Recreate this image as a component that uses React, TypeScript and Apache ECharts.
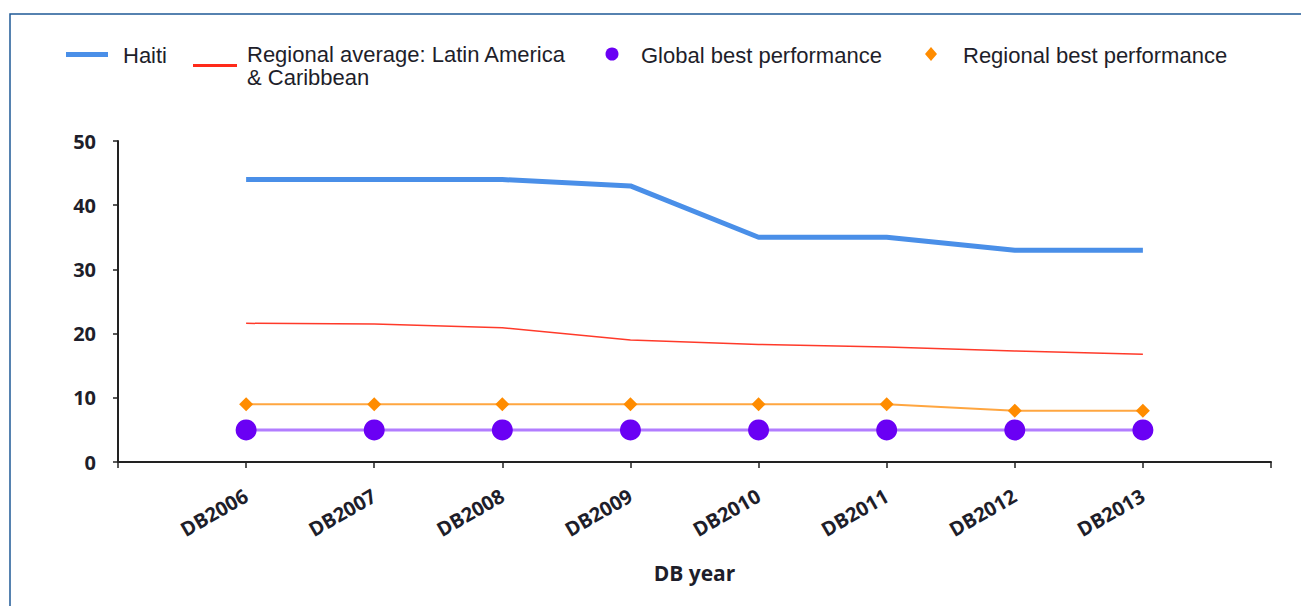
import React, { useEffect, useRef } from "react";
import * as echarts from "echarts";

const categories = ["", "DB2006", "DB2007", "DB2008", "DB2009", "DB2010", "DB2011", "DB2012", "DB2013", ""];
const haiti = [null, 44, 44, 44, 43, 35, 35, 33, 33, null];
const regionalAverage = [null, 21.6, 21.5, 20.9, 19.0, 18.3, 17.9, 17.3, 16.8, null];
const globalBest = [null, 5, 5, 5, 5, 5, 5, 5, 5, null];
const regionalBest = [null, 9, 9, 9, 9, 9, 9, 8, 8, null];
const yTicks = { min: 0, max: 50, interval: 10 };
const legendNames = ["Haiti", "Regional average: Latin America\n& Caribbean", "Global best performance", "Regional best performance"];

const FONT = "'Liberation Sans', Arial, sans-serif";
const BOLD = "'Open Sans', 'DejaVu Sans', sans-serif";
const TXT = "#1e1e2a";

export default function App() {
  const ref = useRef<HTMLDivElement>(null);
  useEffect(() => {
    const chart = echarts.init(ref.current!, null, { renderer: "svg" });
    const legendText = (x: number, y: number, t: string) => ({
      type: "text",
      x,
      y,
      style: { text: t, font: `22px ${FONT}`, fill: TXT, textVerticalAlign: "middle", lineHeight: 23 },
    });
    chart.setOption({
      animation: false,
      backgroundColor: "#ffffff",
      grid: { left: 118, right: 30, top: 141, bottom: 144, containLabel: false },
      xAxis: {
        type: "category",
        data: categories,
        boundaryGap: false,
        name: "DB year",
        nameLocation: "middle",
        nameGap: 100,
        nameTextStyle: { fontFamily: BOLD, fontWeight: "bold", fontSize: 21, color: TXT },
        axisLine: { show: true, lineStyle: { color: "#222", width: 2 } },
        axisTick: { show: true, length: 6, lineStyle: { color: "#222", width: 1.5 } },
        axisLabel: { rotate: 30, margin: 32, interval: 0, fontFamily: BOLD, fontWeight: "bold", fontSize: 20, color: TXT },
        splitLine: { show: false },
      },
      yAxis: {
        type: "value",
        min: yTicks.min,
        max: yTicks.max,
        interval: yTicks.interval,
        axisLine: { show: true, lineStyle: { color: "#222", width: 2 } },
        axisTick: { show: true, length: 5, lineStyle: { color: "#222", width: 1.5 } },
        axisLabel: { margin: 22, fontFamily: BOLD, fontWeight: "bold", fontSize: 20, color: TXT },
        splitLine: { show: false },
      },
      series: [
        {
          name: legendNames[0],
          type: "line",
          data: haiti,
          showSymbol: false,
          symbol: "none",
          lineStyle: { color: "#4a8fe8", width: 5 },
          itemStyle: { color: "#4a8fe8" },
        },
        {
          name: legendNames[1],
          type: "line",
          data: regionalAverage,
          symbol: "none",
          lineStyle: { color: "#ff3a2a", width: 1.5 },
          itemStyle: { color: "#ff3a2a" },
        },
        {
          name: legendNames[2],
          type: "line",
          data: globalBest,
          symbol: "circle",
          symbolSize: 21,
          lineStyle: { color: "#b27dff", width: 3 },
          itemStyle: { color: "#6a00f4" },
          z: 3,
        },
        {
          name: legendNames[3],
          type: "line",
          data: regionalBest,
          symbol: "diamond",
          symbolSize: 14,
          lineStyle: { color: "#ffa640", width: 2 },
          itemStyle: { color: "#ff8c00" },
          z: 4,
        },
      ],
      graphic: [
        {
          type: "rect",
          shape: { x: 10, y: 14, width: 1300, height: 600 },
          style: { fill: "none", stroke: "#1f5a96", lineWidth: 1.5 },
          silent: true,
        },
        { type: "rect", shape: { x: 66, y: 52, width: 42, height: 5 }, style: { fill: "#4a8fe8" } },
        legendText(123, 55, legendNames[0]),
        { type: "rect", shape: { x: 193, y: 64, width: 44, height: 3 }, style: { fill: "#ff2a1a" } },
        legendText(247, 66, legendNames[1]),
        { type: "circle", shape: { cx: 612, cy: 54, r: 6.5 }, style: { fill: "#6a00f4" } },
        legendText(641, 55, legendNames[2]),
        {
          type: "polygon",
          shape: { points: [[931, 47], [937, 54], [931, 61], [925, 54]] },
          style: { fill: "#ff8c00" },
        },
        legendText(963, 55, legendNames[3]),
      ],
    });
    return () => chart.dispose();
  }, []);
  return <div ref={ref} style={{ position: "fixed", left: 0, top: 0, width: 1301, height: 606 }} />;
}
